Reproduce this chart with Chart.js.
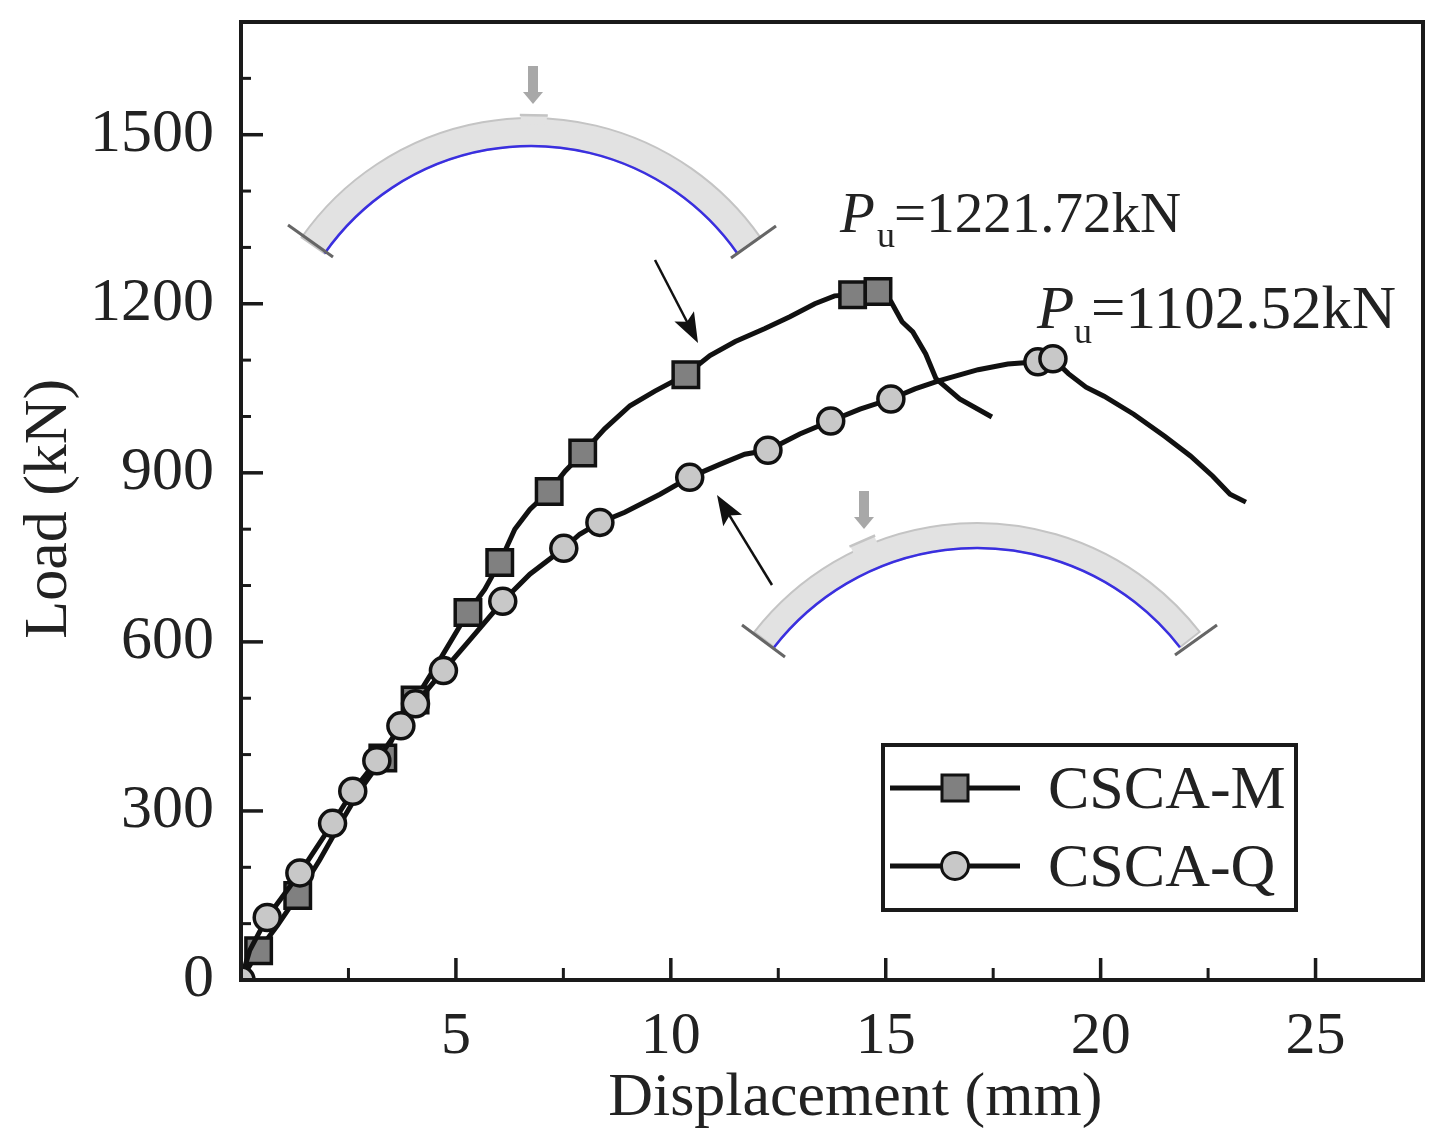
<!DOCTYPE html>
<html>
<head>
<meta charset="utf-8">
<title>Load-displacement</title>
<script src="https://cdn.jsdelivr.net/npm/chart.js@4"></script>
<style>
  html, body { margin: 0; padding: 0; background: #fff; }
  canvas { display: block; filter: blur(0.5px); }
</style>
</head>
<body>
<canvas id="chart" width="1446" height="1146"></canvas>
<script>
// curve CSCA-M
const mX = [0, 0.41, 0.85, 1.32, 1.83, 2.29, 2.77, 3.30, 3.69, 4.05, 4.63, 5.28, 5.67, 6.02, 6.37, 6.72, 7.17, 7.54, 7.95, 8.46, 9.05, 9.63, 10.35, 10.91, 11.50, 12.19, 12.77, 13.35, 13.81, 14.23, 14.82, 15.12, 15.38, 15.63, 15.93, 16.17, 16.72, 17.47];
const mY = [0, 52, 97, 150, 213, 275, 337, 394, 453, 497, 569, 652, 693, 741, 800, 835, 867, 903, 935, 978, 1019, 1045, 1074, 1108, 1133, 1156, 1177, 1200, 1214, 1216, 1221.72, 1204, 1168, 1150, 1111, 1067, 1031, 999];
const mMarkX = [0.41, 1.32, 3.30, 4.05, 5.28, 6.02, 7.17, 7.95, 10.35, 14.23, 14.82];
const mMarkY = [52, 150, 394, 497, 652, 741, 867, 935, 1074, 1216, 1221.72];

// curve CSCA-Q
const qX = [0, 0.20, 0.61, 1.37, 2.13, 2.60, 3.16, 3.72, 4.06, 4.71, 5.33, 6.09, 6.72, 7.51, 7.88, 8.35, 8.93, 9.75, 10.44, 11.14, 11.72, 12.26, 13.00, 13.72, 14.40, 15.12, 15.68, 16.23, 17.15, 17.84, 18.54, 18.89, 19.25, 19.66, 20.08, 20.77, 21.49, 22.09, 22.61, 23.01, 23.38];
const qY = [0, 52, 111, 190, 278, 335, 389, 451, 490, 549, 604, 672, 720, 766, 791, 812, 830, 862, 892, 915, 933, 940, 969, 992, 1013, 1031, 1049, 1063, 1083, 1093, 1097, 1102.52, 1076, 1052, 1036, 1004, 965, 930, 894, 862, 848];
const qMarkX = [0, 0.61, 1.37, 2.13, 2.60, 3.16, 3.72, 4.06, 4.71, 6.09, 7.51, 8.35, 10.44, 12.26, 13.72, 15.12, 18.54, 18.89];
const qMarkY = [0, 111, 190, 278, 335, 389, 451, 490, 549, 672, 766, 812, 892, 940, 992, 1031, 1097, 1102.52];

const xTickLabels = [5, 10, 15, 20, 25];
const yTickLabels = [0, 300, 600, 900, 1200, 1500];
const seriesNames = ["CSCA-M", "CSCA-Q"];

const SERIF = '"Liberation Serif", "Times New Roman", serif';
const INK = "#1a1a1a";
const toPoints = (xs, ys) => xs.map((x, i) => ({ x: x, y: ys[i] }));

const curve = (label, xs, ys, order) => ({
  label: label,
  data: toPoints(xs, ys),
  showLine: true,
  borderColor: "#111",
  borderWidth: 5,
  pointRadius: 0,
  tension: 0,
  clip: 0,
  order: order,
});
const markers = (label, xs, ys, style, radius, fill, order) => ({
  label: label,
  data: toPoints(xs, ys),
  showLine: false,
  pointStyle: style,
  pointRadius: radius,
  pointBackgroundColor: fill,
  pointBorderColor: "#111",
  pointBorderWidth: 3.5,
  clip: 0,
  order: order,
});

// arch sketch with a load arrow, pixel positions are only for this drawing
function drawArch(ctx, a) {
  const s = a.spread;
  ctx.save();
  ctx.beginPath();
  ctx.arc(a.cx, a.cy, a.rOut, -Math.PI / 2 - s, -Math.PI / 2 + s);
  ctx.arc(a.cx, a.cy, a.rIn, -Math.PI / 2 + s, -Math.PI / 2 - s, true);
  ctx.closePath();
  ctx.fillStyle = "#e2e2e2";
  ctx.fill();
  ctx.strokeStyle = "#c4c4c4";
  ctx.lineWidth = 2;
  ctx.stroke();
  // loading pad
  const px = a.cx + a.rOut * Math.sin(a.pad);
  const py = a.cy - a.rOut * Math.cos(a.pad);
  ctx.translate(px, py);
  ctx.rotate(a.pad);
  ctx.fillStyle = "#e2e2e2";
  ctx.fillRect(-13, -a.padH, 26, a.padH + 6);
  ctx.strokeStyle = "#c4c4c4";
  ctx.strokeRect(-13, -a.padH, 26, 0.5);
  ctx.restore();

  ctx.save();
  ctx.beginPath();
  ctx.arc(a.cx, a.cy, a.rIn, -Math.PI / 2 - s, -Math.PI / 2 + s);
  ctx.strokeStyle = "#3a2fe0";
  ctx.lineWidth = 2.5;
  ctx.stroke();
  // supports
  ctx.strokeStyle = "#666";
  ctx.lineWidth = 3;
  a.supports.forEach((p) => {
    ctx.beginPath();
    ctx.moveTo(p[0], p[1]);
    ctx.lineTo(p[2], p[3]);
    ctx.stroke();
  });
  // load arrow
  ctx.fillStyle = "#a8a8a8";
  ctx.fillRect(a.ax - 5, a.ay, 10, 26);
  ctx.beginPath();
  ctx.moveTo(a.ax - 10, a.ay + 26);
  ctx.lineTo(a.ax + 10, a.ay + 26);
  ctx.lineTo(a.ax, a.ay + 38);
  ctx.closePath();
  ctx.fill();
  ctx.restore();
}

function drawArrow(ctx, x1, y1, x2, y2) {
  const ang = Math.atan2(y2 - y1, x2 - x1);
  ctx.save();
  ctx.strokeStyle = "#111";
  ctx.fillStyle = "#111";
  ctx.lineWidth = 2.5;
  ctx.beginPath();
  ctx.moveTo(x1, y1);
  ctx.lineTo(x2 - 20 * Math.cos(ang), y2 - 20 * Math.sin(ang));
  ctx.stroke();
  ctx.translate(x2, y2);
  ctx.rotate(ang);
  ctx.beginPath();
  ctx.moveTo(0, 0);
  ctx.lineTo(-30, -11);
  ctx.lineTo(-24, 0);
  ctx.lineTo(-30, 11);
  ctx.closePath();
  ctx.fill();
  ctx.restore();
}

function drawPu(ctx, text, x, y, size) {
  ctx.save();
  ctx.fillStyle = "#222";
  ctx.textAlign = "left";
  ctx.textBaseline = "alphabetic";
  ctx.font = "italic " + size + "px " + SERIF;
  ctx.fillText("P", x, y);
  ctx.font = "36px " + SERIF;
  ctx.fillText("u", x + 37, y + 15);
  ctx.font = size + "px " + SERIF;
  ctx.fillText(text, x + 54, y);
  ctx.restore();
}

const frameAndTicks = {
  id: "frameAndTicks",
  afterDatasetsDraw(chart) {
    const { ctx, chartArea: a, scales } = chart;
    ctx.save();
    ctx.strokeStyle = INK;
    scales.x.ticks.forEach((t) => {
      if (t.value === 0) return;
      const px = scales.x.getPixelForValue(t.value);
      const major = xTickLabels.includes(t.value);
      ctx.lineWidth = major ? 3.5 : 3;
      ctx.beginPath();
      ctx.moveTo(px, a.bottom);
      ctx.lineTo(px, a.bottom - (major ? 22 : 12));
      ctx.stroke();
    });
    scales.y.ticks.forEach((t) => {
      if (t.value === 0) return;
      const py = scales.y.getPixelForValue(t.value);
      const major = yTickLabels.includes(t.value);
      ctx.lineWidth = major ? 3.5 : 3;
      ctx.beginPath();
      ctx.moveTo(a.left, py);
      ctx.lineTo(a.left + (major ? 22 : 10), py);
      ctx.stroke();
    });
    ctx.lineWidth = 4;
    ctx.strokeRect(a.left, a.top, a.right - a.left, a.bottom - a.top);
    ctx.restore();
  },
};

const notes = {
  id: "notes",
  afterDraw(chart) {
    const ctx = chart.ctx;
    drawArch(ctx, {
      cx: 531, cy: 398, rOut: 280, rIn: 252, spread: 0.96, pad: 0.01, padH: 3,
      supports: [[288, 225, 333, 257], [731, 258, 776, 226]],
      ax: 533, ay: 66,
    });
    drawArch(ctx, {
      cx: 977, cy: 805, rOut: 282, rIn: 257, spread: 0.91, pad: -0.41, padH: 6,
      supports: [[742, 625, 785, 657], [1175, 655, 1217, 625]],
      ax: 864, ay: 491,
    });
    drawArrow(ctx, 655, 260, 698, 343);
    drawArrow(ctx, 772, 585, 717, 495);
    drawPu(ctx, "=1221.72kN", 840, 232, 57);
    drawPu(ctx, "=1102.52kN", 1037, 328, 61);

    // legend box
    ctx.save();
    ctx.strokeStyle = INK;
    ctx.lineWidth = 4;
    ctx.strokeRect(883, 745, 413, 165);
    ctx.fillStyle = "#222";
    ctx.font = "62px " + SERIF;
    ctx.textAlign = "left";
    ctx.textBaseline = "alphabetic";
    ctx.fillText(seriesNames[0], 1048, 808);
    ctx.fillText(seriesNames[1], 1048, 886);
    ctx.strokeStyle = "#111";
    ctx.lineWidth = 5;
    [788, 866].forEach((y) => {
      ctx.beginPath();
      ctx.moveTo(890, y);
      ctx.lineTo(1020, y);
      ctx.stroke();
    });
    ctx.lineWidth = 3;
    ctx.fillStyle = "#808080";
    ctx.fillRect(942, 775, 26, 26);
    ctx.strokeRect(942, 775, 26, 26);
    ctx.fillStyle = "#c8c8c8";
    ctx.beginPath();
    ctx.arc(955, 866, 13.5, 0, Math.PI * 2);
    ctx.fill();
    ctx.stroke();
    ctx.restore();
  },
};

new Chart(document.getElementById("chart"), {
  type: "scatter",
  data: {
    datasets: [
      markers(seriesNames[1], qMarkX, qMarkY, "circle", 13, "#c8c8c8", 1),
      curve(seriesNames[1], qX, qY, 2),
      markers(seriesNames[0], mMarkX, mMarkY, "rect", 18, "#808080", 3),
      curve(seriesNames[0], mX, mY, 4),
    ],
  },
  options: {
    responsive: false,
    animation: false,
    devicePixelRatio: 1,
    layout: { padding: { top: 22, right: 23, left: 0, bottom: 0 } },
    plugins: { legend: { display: false }, tooltip: { enabled: false } },
    scales: {
      x: {
        type: "linear",
        min: 0,
        max: 27.5,
        afterFit: (s) => { s.height = 166; s.paddingLeft = 0; s.paddingRight = 0; },
        grid: { display: false },
        border: { display: false },
        ticks: {
          stepSize: 2.5,
          includeBounds: false,
          autoSkip: false,
          maxRotation: 0,
          padding: 13,
          color: "#222",
          font: { family: SERIF, size: 60 },
          callback: (v) => (xTickLabels.includes(v) ? String(v) : ""),
        },
        title: {
          display: true,
          text: "   Displacement (mm)",
          color: "#222",
          font: { family: SERIF, size: 62 },
          padding: { top: 0, bottom: 10 },
        },
      },
      y: {
        type: "linear",
        min: 0,
        max: 1700,
        afterFit: (s) => { s.width = 241; s.paddingTop = 0; s.paddingBottom = 0; },
        grid: { display: false },
        border: { display: false },
        ticks: {
          stepSize: 100,
          includeBounds: false,
          autoSkip: false,
          padding: 19,
          color: "#222",
          font: { family: SERIF, size: 62 },
          callback: (v) => (yTickLabels.includes(v) ? String(v) : ""),
        },
        title: {
          display: true,
          text: "Load (kN) ",
          color: "#222",
          font: { family: SERIF, size: 62 },
          padding: { top: 13, bottom: 0 },
        },
      },
    },
  },
  plugins: [frameAndTicks, notes],
});
</script>
</body>
</html>
